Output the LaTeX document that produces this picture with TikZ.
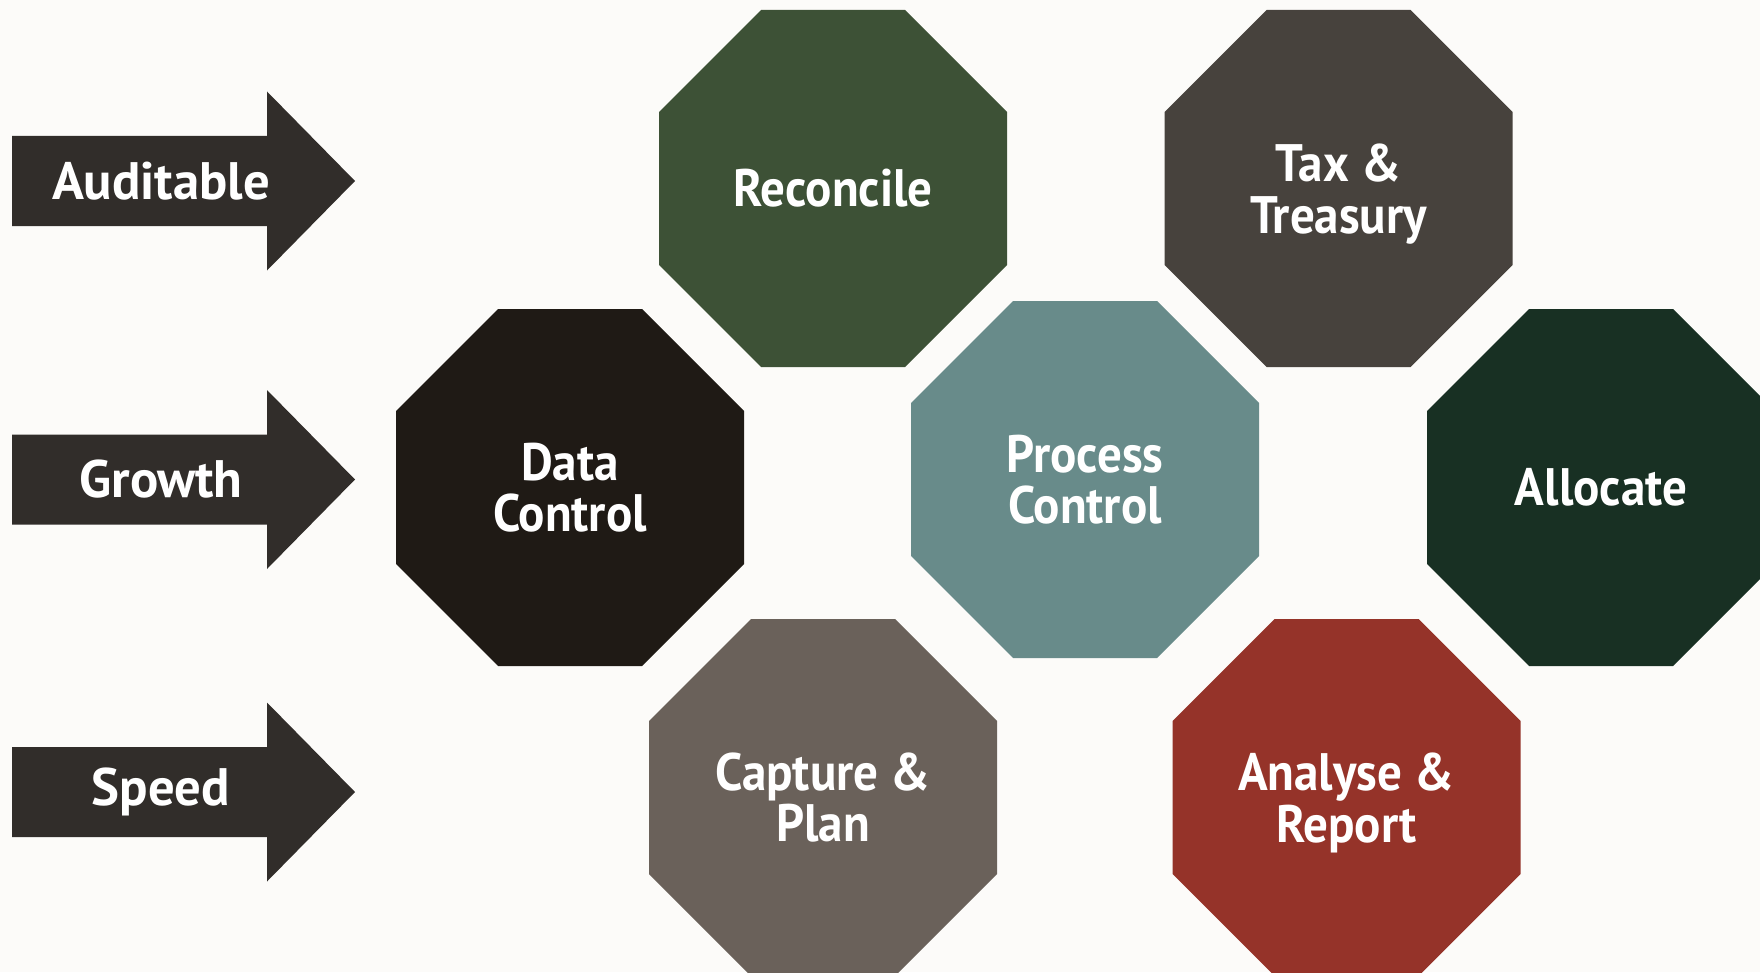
\documentclass[tikz,border=0pt]{standalone}
\usepackage{fontspec}
\setmainfont{PT Sans}
\newfontfamily\narrowfont[FakeStretch=0.93]{PT Sans}
\usetikzlibrary{calc}

\definecolor{paper}{HTML}{FCFBF9}
\definecolor{arrowgrey}{HTML}{312D2A}
\definecolor{moss}{HTML}{3D5136}
\definecolor{taupe}{HTML}{47423D}
\definecolor{ink}{HTML}{1F1A15}
\definecolor{teal}{HTML}{688B8A}
\definecolor{pine}{HTML}{183023}
\definecolor{stone}{HTML}{6A615A}
\definecolor{rust}{HTML}{953329}

% octagon: name, x, y, colour, text
\newcommand\octo[5]{%
	\fill[#4] (#2,#3) ++(-72,-178.5) -- ++(144,0) -- ++(102,102) -- ++(0,153)
		-- ++(-102,102) -- ++(-144,0) -- ++(-102,-102) -- ++(0,-153) -- cycle;
	\node[lbl, font=\fontsize{15}{14.7}\narrowfont\bfseries] (#1) at (#2,#3) {#5};}
% arrow: name, y, text
\newcommand\goal[3]{%
	\fill[arrowgrey] (12,#2) ++(0,-45) -- ++(255,0) -- ++(0,-44.5) -- ++(88,89.5)
		-- ++(-88,89.5) -- ++(0,-44.5) -- ++(-255,0) -- cycle;
	\node[lbl] (#1) at (161,#2) {#3};}

\begin{document}
\begin{tikzpicture}[
	x=0.1mm, y=-0.1mm,
	lbl/.style={text=white, align=center, inner sep=0pt,
		font=\fontsize{15}{14.7}\selectfont\bfseries}]
	\fill[paper] (0,0) rectangle (1760,972);
	\useasboundingbox (0,0) rectangle (1760,972);
	\goal{auditable}{181}{Auditable}
	\goal{growth}{479.5}{Growth}
	\goal{speed}{792}{Speed}
	\octo{reconcile}{833}{188.5}{moss}{Reconcile}
	\octo{tax}{1338.5}{188.5}{taupe}{Tax \&\\\smash{Treasury}}
	\octo{data}{570}{487.5}{ink}{Data\\Control}
	\octo{process}{1085}{479.5}{teal}{Process\\Control}
	\octo{allocate}{1601}{487.5}{pine}{Allocate}
	\octo{capture}{823}{797.5}{stone}{Capture \&\\Plan}
	\octo{analyse}{1346.5}{797.5}{rust}{Analyse \&\\\smash{Report}}
\end{tikzpicture}
\end{document}
